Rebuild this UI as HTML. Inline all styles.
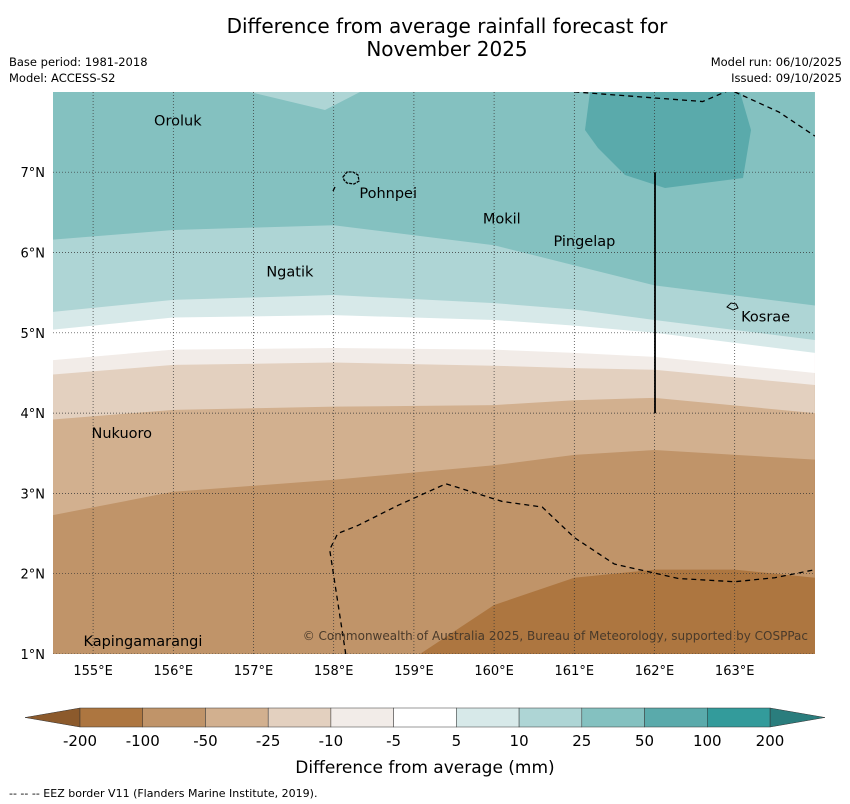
<!DOCTYPE html>
<html><head><meta charset="utf-8"><style>
body{margin:0;background:#fff;font-family:"DejaVu Sans","Liberation Sans",sans-serif;}
svg{display:block}
</style></head><body>
<svg id="c" width="850" height="804" xmlns="http://www.w3.org/2000/svg">
<text x="447" y="33" text-anchor="middle" font-size="20">Difference from average rainfall forecast for</text>
<text x="447" y="56" text-anchor="middle" font-size="20">November 2025</text>
<text x="9" y="66" font-size="11.5">Base period: 1981-2018</text>
<text x="9" y="82" font-size="11.5">Model: ACCESS-S2</text>
<text x="842" y="66" font-size="11.5" text-anchor="end">Model run: 06/10/2025</text>
<text x="842" y="82" font-size="11.5" text-anchor="end">Issued: 09/10/2025</text>
<defs><clipPath id="mc"><rect x="53" y="92" width="762" height="562"/></clipPath></defs>
<g id="map" clip-path="url(#mc)"></g>
<g id="axes"></g>
<g id="cb"></g>
<text x="425" y="773" text-anchor="middle" font-size="17">Difference from average (mm)</text>
<text x="9" y="797" font-size="11">--  --  -- EEZ border V11 (Flanders Marine Institute, 2019).</text>
</svg>
<script>
const lons=[154.5,156,158,160,161,162,164];
const b1=[6.16,6.28,6.34,6.09,5.84,5.59,5.34];
const b2=[5.26,5.41,5.47,5.37,5.29,5.16,4.91];
const b3=[5.04,5.19,5.22,5.16,5.09,5.00,4.75];
const b4=[4.66,4.79,4.81,4.79,4.75,4.70,4.50];
const b5=[4.48,4.60,4.63,4.59,4.56,4.54,4.35];
const b6=[3.92,4.04,4.08,4.10,4.16,4.19,4.00];
const b7=[2.73,3.02,3.17,3.35,3.48,3.54,3.42];
const lons8=[154.5,158.5,159,160,161,162,163,164];
const b8=[0.5,0.5,0.95,1.61,1.95,2.05,2.05,1.95];
const levels=["-200","-100","-50","-25","-10","-5","5","10","25","50","100","200"];
const cols=["#ad7640","#c09469","#d2b08f","#e3d0bf","#f2ece8","#ffffff","#d7e9e9","#aed5d5","#84c1c0","#5aaaab","#339b9b"];
const islands=[["Oroluk",155.76,7.58],["Pohnpei",158.32,6.68],["Mokil",159.86,6.36],["Pingelap",160.74,6.08],["Ngatik",157.16,5.7],["Kosrae",163.08,5.14],["Nukuoro",154.98,3.69],["Kapingamarangi",154.88,1.1]];
const eez1=[[158.15,1],[157.95,2.3],[158.05,2.5],[158.3,2.6],[158.8,2.85],[159.4,3.12],[160.1,2.9],[160.6,2.83],[161.0,2.45],[161.5,2.12],[162.3,1.94],[163,1.9],[163.5,1.95],[164,2.05]];
const eez2=[[161,8],[162.6,7.88],[163,8.05]];
const eez3=[[163,8],[163.55,7.75],[164,7.45]];
const NS="http://www.w3.org/2000/svg";
const X=l=>53+(l-154.5)*80.2;
const Y=a=>654-(a-1)*80.3;
function mk(t,p,at){const e=document.createElementNS(NS,t);for(const k in at)e.setAttribute(k,at[k]);p.appendChild(e);return e;}
const map=document.getElementById('map');
let r=mk('rect',map,{x:53,y:92,width:762,height:562,fill:cols[0]});


function above(ls,b,col,name){let d='M'+X(ls[0])+',80';ls.forEach((l,i)=>d+=' L'+X(l)+','+Y(b[i]));d+=' L'+X(ls[ls.length-1])+',80Z';
const p=mk('path',map,{d:d,fill:col});

}
above(lons8,b8,cols[1],'band-100-50');
above(lons,b7,cols[2],'band-50-25');
above(lons,b6,cols[3],'band-25-10');
above(lons,b5,cols[4],'band-10-5');
above(lons,b4,cols[5],'band-5-5');
above(lons,b3,cols[6],'band-5-10');
above(lons,b2,cols[7],'band-10-25');
above(lons,b1,cols[8],'band-25-50');
let p1=mk('path',map,{d:'M250,92 L360,92 L325,110Z',fill:cols[7]});

let p2=mk('path',map,{d:'M590,92 L740,92 L751,130 L743,178 L665,188 L625,175 L598,148 L585,130Z',fill:cols[9]});

const ax=document.getElementById('axes');
for(let l=155;l<=163;l++){const g=mk('line',map,{x1:X(l),x2:X(l),y1:92,y2:654,stroke:'#333','stroke-width':0.7,'stroke-dasharray':'1,2'});

const t=mk('text',ax,{x:X(l),y:675,'text-anchor':'middle','font-size':13});t.textContent=l+'°E';
}
for(let a=1;a<=7;a++){const g=mk('line',map,{x1:53,x2:815,y1:Y(a),y2:Y(a),stroke:'#333','stroke-width':0.7,'stroke-dasharray':'1,2'});

const t=mk('text',ax,{x:45,y:Y(a)+5,'text-anchor':'end','font-size':13});t.textContent=a+'°N';
}
[eez1,eez2,eez3].forEach(e=>{const q=mk('polyline',map,{points:e.map(p=>X(p[0])+','+Y(p[1])).join(' '),fill:'none',stroke:'#000','stroke-width':1.3,'stroke-dasharray':'5,4'});
});
let vl=mk('line',map,{x1:655,x2:655,y1:Y(7),y2:Y(4),stroke:'#000','stroke-width':1.8});

let pi=mk('path',map,{d:'M343,177 l4,-5 l6,0 l5,3 l1,6 l-5,3 l-7,-1 l-3,-3Z',fill:'none',stroke:'#000','stroke-width':1.3,'stroke-dasharray':'3,1'});

let pd=mk('line',map,{x1:333,y1:191,x2:335,y2:187,stroke:'#000','stroke-width':1.3});

let ko=mk('path',map,{d:'M727,307 l4,-4 l5,1 l2,4 l-5,2Z',fill:'none',stroke:'#000','stroke-width':1});

islands.forEach(s=>{const t=mk('text',map,{x:X(s[1]),y:Y(s[2]),'font-size':14.5});t.textContent=s[0];
});
let cp=mk('text',map,{x:808,y:640,'text-anchor':'end','font-size':12,fill:'#4a3a2a'});cp.textContent='© Commonwealth of Australia 2025, Bureau of Meteorology, supported by COSPPac';

const cb=document.getElementById('cb');
const x0=80,w=(770-80)/cols.length;
let lt=mk('path',cb,{d:'M80,708 L25,717.5 L80,727Z',fill:'#8c5a2c',stroke:'#333','stroke-width':0.5});

let rt=mk('path',cb,{d:'M770,708 L825,717.5 L770,727Z',fill:'#2a7d7d',stroke:'#333','stroke-width':0.5});

cols.forEach((c,i)=>{const s=mk('rect',cb,{x:x0+i*w,y:708,width:w,height:19,fill:c,stroke:'#333','stroke-width':0.5});
});
levels.forEach((l,i)=>{const t=mk('text',cb,{x:x0+i*w,y:746,'text-anchor':'middle','font-size':15});t.textContent=l;
});
</script>
</body></html>
